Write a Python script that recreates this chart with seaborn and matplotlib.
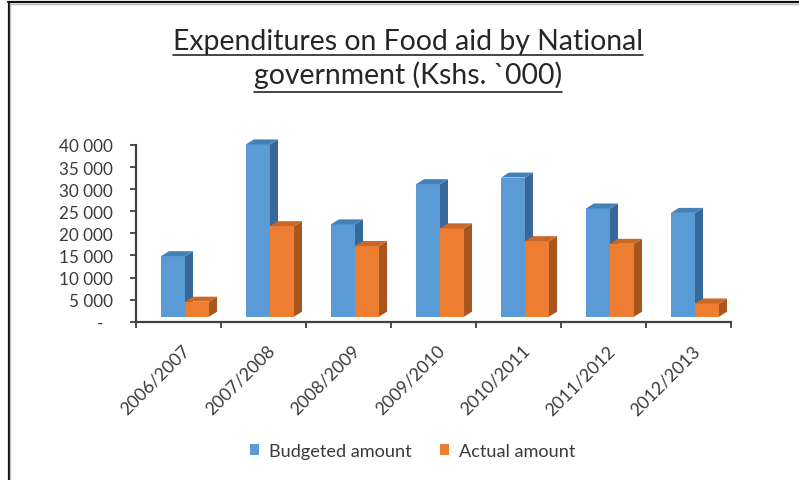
import numpy as np
import pandas as pd
import seaborn as sns
import matplotlib
matplotlib.use("Agg")
import matplotlib.pyplot as plt
from matplotlib.patches import Polygon, Patch
from matplotlib.lines import Line2D
from matplotlib.transforms import ScaledTranslation, IdentityTransform

# ---- data (Kshs. '000) ----
years = ["2006/2007", "2007/2008", "2008/2009", "2009/2010",
         "2010/2011", "2011/2012", "2012/2013"]
budgeted = [13700, 39000, 20900, 30000, 31500, 24500, 23500]
actual = [3400, 20500, 16000, 20000, 17100, 16500, 3000]
series_names = ["Budgeted amount", "Actual amount"]
y_ticks = [0, 5000, 10000, 15000, 20000, 25000, 30000, 35000, 40000]
y_tick_labels = ["-", "5 000", "10 000", "15 000", "20 000",
                 "25 000", "30 000", "35 000", "40 000"]
title_lines = ["Expenditures on Food aid by National",
               "government (Kshs. `000)"]

# ---- styling ----
FRONT = ["#5B9BD5", "#ED7D31"]
SIDE = ["#36699A", "#A9561E"]
TOP = ["#4680B8", "#C8692A"]
AXIS_COLOR = "#404040"
TEXT_COLOR = "#3A3A3A"

sns.set_theme(style="white")
plt.rcParams["font.family"] = ["Lato", "DejaVu Sans"]

W, H = 799, 481
DPI = 100
fig = plt.figure(figsize=(W / DPI, H / DPI), dpi=DPI)
fig.patch.set_facecolor("white")

ax_left, ax_right, ax_top, ax_bottom = 136, 731, 146, 322.7
ax = fig.add_axes([ax_left / W, 1 - ax_bottom / H,
                   (ax_right - ax_left) / W, (ax_bottom - ax_top) / H])

df = pd.DataFrame({
    "Year": years + years,
    "Series": [series_names[0]] * len(years) + [series_names[1]] * len(years),
    "Amount": budgeted + actual,
})

sns.barplot(data=df, x="Year", y="Amount", hue="Series",
            hue_order=series_names, palette=FRONT, saturation=1,
            width=0.565, gap=0, errorbar=None, legend=False, ax=ax,
            linewidth=0)

ax.set_xlim(-0.5, len(years) - 0.5)
ax.set_ylim(0, 40000)
ax.set_xlabel("")
ax.set_ylabel("")
ax.set_facecolor("white")

for s in ["top", "right"]:
    ax.spines[s].set_visible(False)
for s in ["left", "bottom"]:
    ax.spines[s].set_color(AXIS_COLOR)
    ax.spines[s].set_linewidth(1.6)

ax.set_yticks(y_ticks)
ax.set_yticklabels(y_tick_labels)
ax.tick_params(axis="y", direction="out", length=4.5, width=1.3,
               color=AXIS_COLOR, pad=12, labelsize=12.3, labelcolor=TEXT_COLOR,
               left=True)
ax.set_xticks(range(len(years)))
ax.set_xticklabels(years, rotation=45, ha="right", va="top",
                   rotation_mode="anchor")
ax.set_xticks(np.arange(-0.5, len(years)), minor=True)
ax.tick_params(axis="x", which="major", length=0, pad=14.5, labelsize=12.8,
               labelcolor=TEXT_COLOR)
ax.tick_params(axis="x", which="minor", direction="out", length=4,
               width=1.3, color=AXIS_COLOR, bottom=True)

# shift the zero "-" label to the left like an accounting format
zero_lab = ax.get_yticklabels()[0]
zero_lab.set_transform(zero_lab.get_transform()
                       + ScaledTranslation(-10 / DPI, 0, fig.dpi_scale_trans))
for lab in ax.get_xticklabels():
    lab.set_transform(lab.get_transform()
                      + ScaledTranslation(3 / DPI, 0, fig.dpi_scale_trans))

# ---- 3D column look: front face pushed back into depth, plus side & top ----
front_dx, front_dy = 6.5, 5.0   # pixel offset of the front face
depth_dx, depth_dy = 8.0, 5.0   # pixel depth of each column
shift = ScaledTranslation(front_dx / DPI, front_dy / DPI, fig.dpi_scale_trans)

for si, cont in enumerate(ax.containers):
    for bar in cont:
        x0 = bar.get_x()
        x1 = x0 + bar.get_width()
        h = bar.get_height()
        (px0, py0), (px1, py1) = ax.transData.transform([(x0, 0), (x1, h)])
        px0 += front_dx; px1 += front_dx
        py0 += front_dy; py1 += front_dy
        bar.set_transform(ax.transData + shift)
        bar.set_zorder(2 + si)
        bar.set_clip_on(False)
        side = Polygon([(px1, py0), (px1 + depth_dx, py0 + depth_dy),
                        (px1 + depth_dx, py1 + depth_dy), (px1, py1)],
                       closed=True, transform=IdentityTransform(),
                       facecolor=SIDE[si], edgecolor="none",
                       zorder=2.5 + si, clip_on=False)
        top = Polygon([(px0, py1), (px1, py1),
                       (px1 + depth_dx, py1 + depth_dy),
                       (px0 + depth_dx, py1 + depth_dy)],
                      closed=True, transform=IdentityTransform(),
                      facecolor=TOP[si], edgecolor="none",
                      zorder=2.5 + si, clip_on=False)
        ax.add_artist(side)
        ax.add_artist(top)

# ---- title (underlined, two lines) ----
title_x = 408 / W
t1 = fig.text(title_x, 1 - 50 / H, title_lines[0], ha="center",
              va="baseline", fontsize=20.4, color="#262626")
t2 = fig.text(title_x, 1 - 84 / H, title_lines[1], ha="center",
              va="baseline", fontsize=20.4, color="#262626")

# ---- legend ----
handles = [Patch(facecolor=FRONT[0], edgecolor="none"),
           Patch(facecolor=FRONT[1], edgecolor="none")]
fig.legend(handles, series_names, loc="center", bbox_to_anchor=(413 / W, 1 - 452 / H),
           ncol=2, frameon=False, handlelength=0.5, handleheight=0.5,
           handletextpad=0.55, columnspacing=1.55, fontsize=13.1,
           labelcolor=TEXT_COLOR)

# ---- frame edges ----
fig.add_artist(Line2D([8.5 / W, 8.5 / W], [0, 1 - 3 / H], transform=fig.transFigure,
                      color="#111111", lw=1.6))
fig.add_artist(Line2D([10 / W, 10 / W], [0, 1 - 4.5 / H], transform=fig.transFigure,
                      color="#BBBBBB", lw=1.0))
fig.add_artist(Line2D([8 / W, 1], [1 - 3.2 / H, 1 - 3.2 / H], transform=fig.transFigure,
                      color="#111111", lw=1.6))
fig.add_artist(Line2D([9.5 / W, 1], [1 - 4.8 / H, 1 - 4.8 / H], transform=fig.transFigure,
                      color="#BBBBBB", lw=1.0))

# underline the title lines
fig.canvas.draw()
renderer = fig.canvas.get_renderer()
for t, uy in ((t1, 56.0), (t2, 93.0)):
    bb = t.get_window_extent(renderer)
    fig.add_artist(Line2D([bb.x0 / W, bb.x1 / W], [1 - uy / H, 1 - uy / H],
                          transform=fig.transFigure, color="#262626", lw=1.2))

fig.savefig("out.png", dpi=DPI)
